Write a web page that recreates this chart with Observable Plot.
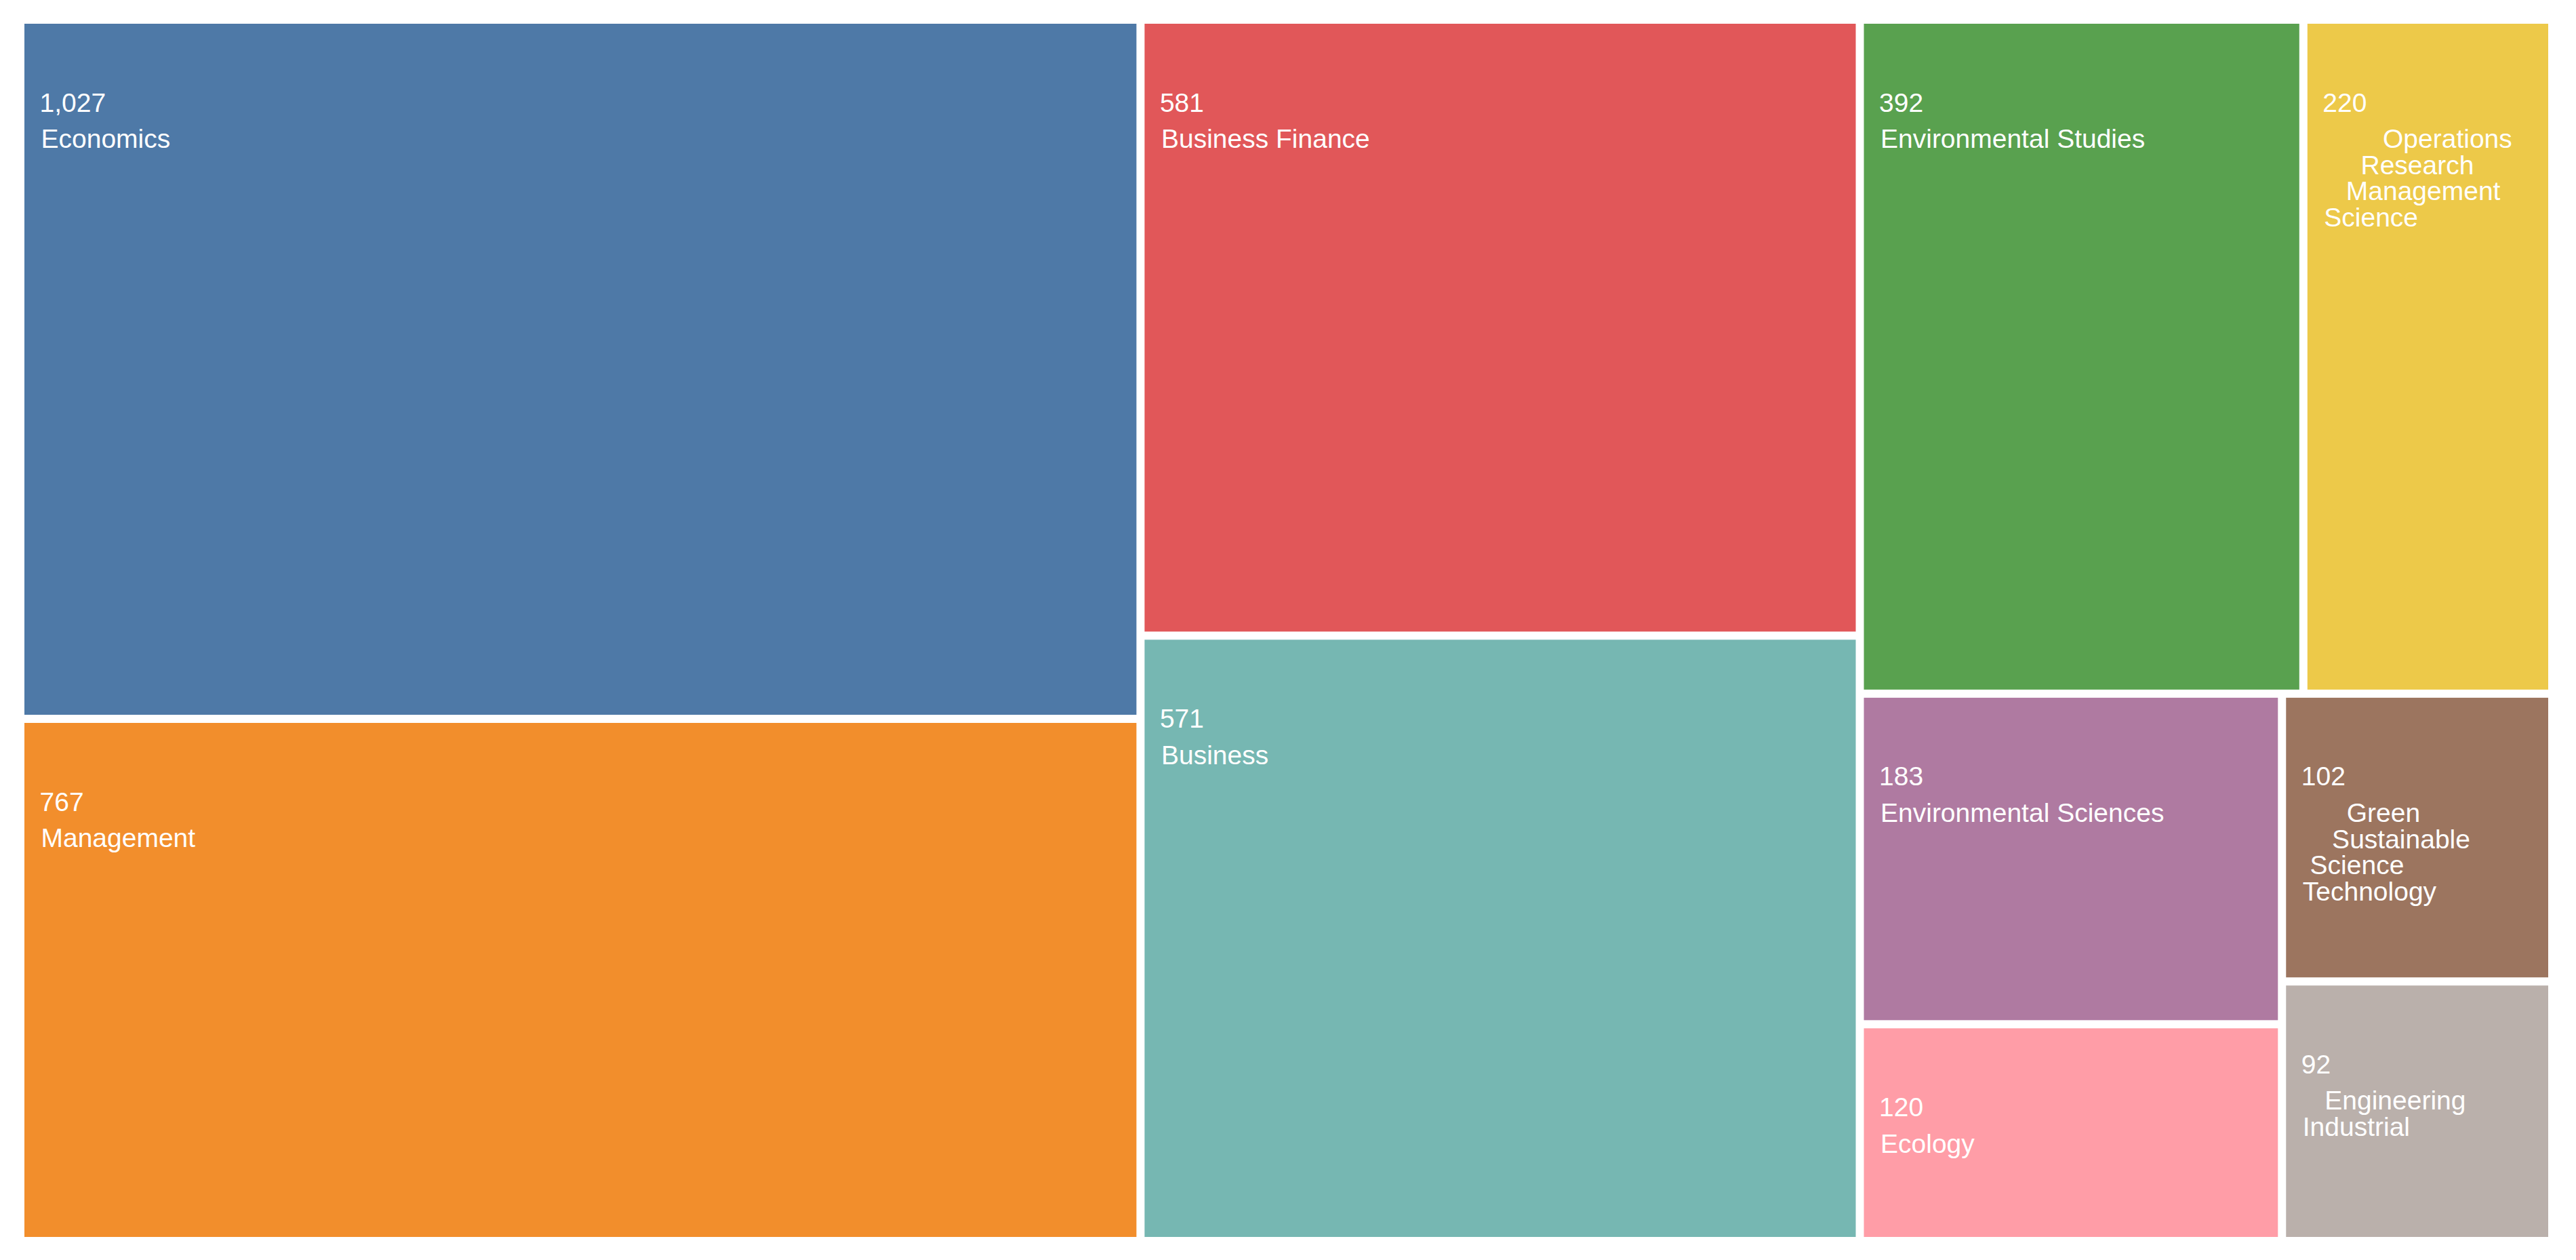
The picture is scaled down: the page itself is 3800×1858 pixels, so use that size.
<!DOCTYPE html>
<html>
<head>
<meta charset="utf-8">
<script src="https://cdn.jsdelivr.net/npm/d3@7"></script>
<script src="https://cdn.jsdelivr.net/npm/@observablehq/plot@0.6"></script>
<style>
  html, body { margin: 0; padding: 0; background: #ffffff; }
  #chart svg { display: block; }
</style>
</head>
<body>
<div id="chart"></div>
<script>
// Categories (Web of Science subject areas) and record counts
const categories = [
  "Economics",
  "Management",
  "Business Finance",
  "Business",
  "Environmental Studies",
  "Operations Research Management Science",
  "Environmental Sciences",
  "Ecology",
  "Green Sustainable Science Technology",
  "Engineering Industrial"
];
const counts = [1027, 767, 581, 571, 392, 220, 183, 120, 102, 92];
// Displayed label text (as wrapped in the original)
const NB = "\u00a0";
const labels = [
  "Economics",
  "Management",
  "Business Finance",
  "Business",
  "Environmental Studies",
  NB.repeat(8) + "Operations\n" + NB.repeat(5) + "Research\n" + NB.repeat(3) + "Management\nScience",
  "Environmental Sciences",
  "Ecology",
  NB.repeat(6) + "Green\n" + NB.repeat(4) + "Sustainable\n" + NB + "Science\n" + "Technology",
  NB.repeat(3) + "Engineering\nIndustrial"
];
const colors = ["#4e79a7", "#f28e2c", "#e15759", "#76b7b2", "#59a14f", "#edc949", "#af7aa1", "#ff9da7", "#9c755f", "#bab0ab"];

// Layout space (in treemap units), computed with d3's squarified treemap
const W = 3723, H = 1789;
const table = categories.map((c, i) => ({category: c, value: counts[i], label: labels[i]}));
const root = d3.hierarchy({children: table})
  .sum(d => d.value || 0)
  .sort((a, b) => b.value - a.value);
d3.treemap().tile(d3.treemapSquarify).size([W, H]).paddingInner(12)(root);
const cells = root.leaves().map(n => ({
  category: n.data.category,
  value: n.data.value,
  label: n.data.label,
  x0: n.x0, x1: n.x1, y0: n.y0, y1: n.y1
}));

const fmt = d3.format(",");
const FS = 39;

const chart = Plot.plot({
  width: 3800,
  height: 1858,
  marginLeft: 36,
  marginRight: 41,
  marginTop: 35,
  marginBottom: 34,
  style: {fontFamily: "'Liberation Sans', Arial, Helvetica, sans-serif", background: "#ffffff"},
  x: {domain: [0, W], axis: null},
  y: {domain: [0, H], reverse: true, axis: null},
  color: {domain: categories, range: colors},
  marks: [
    Plot.rect(cells, {x1: "x0", x2: "x1", y1: "y0", y2: "y1", fill: "category"}),
    Plot.text(cells, {
      x: "x0", y: "y0", text: d => fmt(d.value),
      textAnchor: "start", lineAnchor: "top",
      dx: 22, dy: 129 - 0.71 * FS,
      fill: "white", fontSize: FS
    }),
    Plot.text(cells, {
      x: "x0", y: "y0", text: "label",
      textAnchor: "start", lineAnchor: "top", lineHeight: 0.99,
      dx: 24, dy: 183 - 0.71 * FS,
      fill: "white", fontSize: FS
    })
  ]
});
document.getElementById("chart").appendChild(chart);
</script>
</body>
</html>
